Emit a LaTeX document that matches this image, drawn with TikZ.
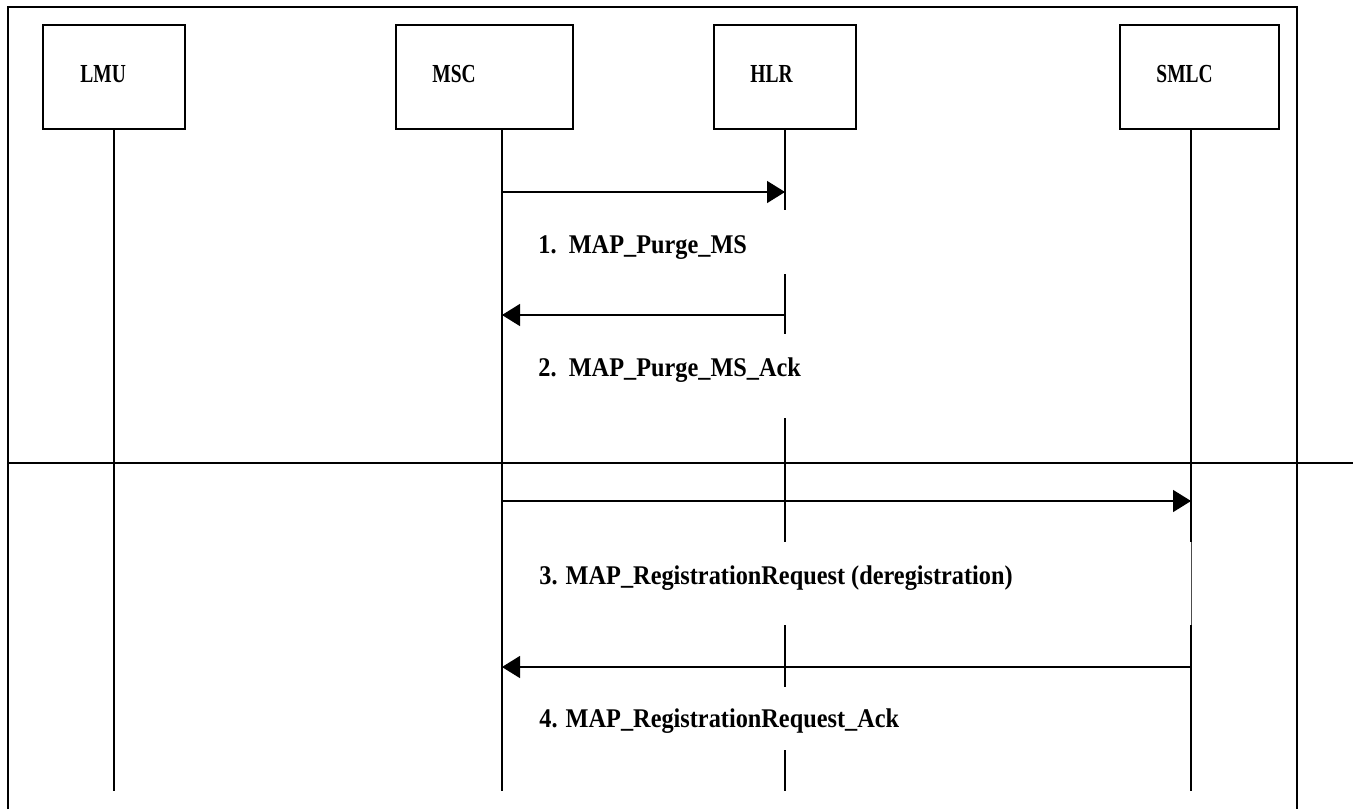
\documentclass[tikz,border=0pt]{standalone}
\usepackage{fontspec}
\setmainfont{Liberation Serif}
\newfontfamily\msgfont[FakeStretch=0.9]{Liberation Serif}
\newfontfamily\entfont[FakeStretch=0.75]{Liberation Serif}
\usetikzlibrary{arrows.meta}
\begin{document}
\begin{tikzpicture}[x=0.5pt,y=-0.5pt,
  entbox/.style={draw, line width=0.7pt, inner sep=0pt},
  enttext/.style={anchor=base west, inner sep=0pt, font=\entfont\bfseries\fontsize{13pt}{15pt}\selectfont},
  msgtext/.style={anchor=base west, inner sep=0pt, font=\msgfont\bfseries\fontsize{13.5pt}{16pt}\selectfont},
  life/.style={line width=0.65pt},
  frameline/.style={line width=0.75pt},
  msg/.style={line width=0.7pt, -{Triangle[length=9pt,width=11pt]}}]
\useasboundingbox[fill=white] (0,0) rectangle (1353,809);
% frame
\coordinate (ftl) at (8,7);
\coordinate (ftr) at (1297,7);
\coordinate (fbl) at (8,809);
\coordinate (fbr) at (1297,809);
\draw[frameline] (fbl) -- (ftl) -- (ftr) -- (fbr);
\coordinate (dl) at (8,463);
\coordinate (dr) at (1353,463);
\draw[frameline] (dl) -- (dr);
% entity boxes
\node[entbox, minimum width=71pt, minimum height=52pt] (lmu) at (114,77) {};
\node[entbox, minimum width=88.5pt, minimum height=52pt] (msc) at (484.5,77) {};
\node[entbox, minimum width=71pt, minimum height=52pt] (hlr) at (785,77) {};
\node[entbox, minimum width=79.5pt, minimum height=52pt] (smlc) at (1199.5,77) {};
\node[enttext] (lmut) at (80,82) {LMU};
\node[enttext] (msct) at (432,82) {MSC};
\node[enttext] (hlrt) at (750,82) {HLR};
\node[enttext] (smlct) at (1156,82) {SMLC};
% lifelines
\coordinate (lmu0) at (114,129); \coordinate (lmu1) at (114,791);
\coordinate (msc0) at (502,129); \coordinate (msc1) at (502,791);
\draw[life] (lmu0) -- (lmu1);
\draw[life] (msc0) -- (msc1);
% HLR lifeline with gaps
\coordinate (h0) at (785,129); \coordinate (h1) at (785,210);
\coordinate (h2) at (785,274); \coordinate (h3) at (785,334);
\coordinate (h4) at (785,418); \coordinate (h5) at (785,542);
\coordinate (h6) at (785,625); \coordinate (h7) at (785,687);
\coordinate (h8) at (785,750); \coordinate (h9) at (785,791);
\draw[life] (h0) -- (h1);
\draw[life] (h2) -- (h3);
\draw[life] (h4) -- (h5);
\draw[life] (h6) -- (h7);
\draw[life] (h8) -- (h9);
% SMLC lifeline
\coordinate (s0) at (1191,129); \coordinate (s1) at (1191,542);
\coordinate (s2) at (1191.6,542); \coordinate (s3) at (1191.6,625);
\coordinate (s4) at (1191,625); \coordinate (s5) at (1191,791);
\draw[life] (s0) -- (s1);
\draw[line width=0.35pt, black!70] (s2) -- (s3);
\draw[life] (s4) -- (s5);
% message anchors
\coordinate (m1a) at (502,192); \coordinate (m1b) at (785,192);
\coordinate (m2a) at (785,315); \coordinate (m2b) at (502,315);
\coordinate (m3a) at (502,501); \coordinate (m3b) at (1191,501);
\coordinate (m4a) at (1191,667); \coordinate (m4b) at (502,667);
\draw[msg] (m1a) -- (m1b);
\draw[msg] (m2a) -- (m2b);
\draw[msg] (m3a) -- (m3b);
\draw[msg] (m4a) -- (m4b);
% labels
\node[msgtext] (l1) at (538,253) {1.\ \ MAP\_Purge\_MS};
\node[msgtext] (l2) at (538,376) {2.\ \ MAP\_Purge\_MS\_Ack};
\node[msgtext] (l3) at (539,584) {3. MAP\_RegistrationRequest (deregistration)};
\node[msgtext] (l4) at (539,727) {4. MAP\_RegistrationRequest\_Ack};
\end{tikzpicture}
\end{document}
